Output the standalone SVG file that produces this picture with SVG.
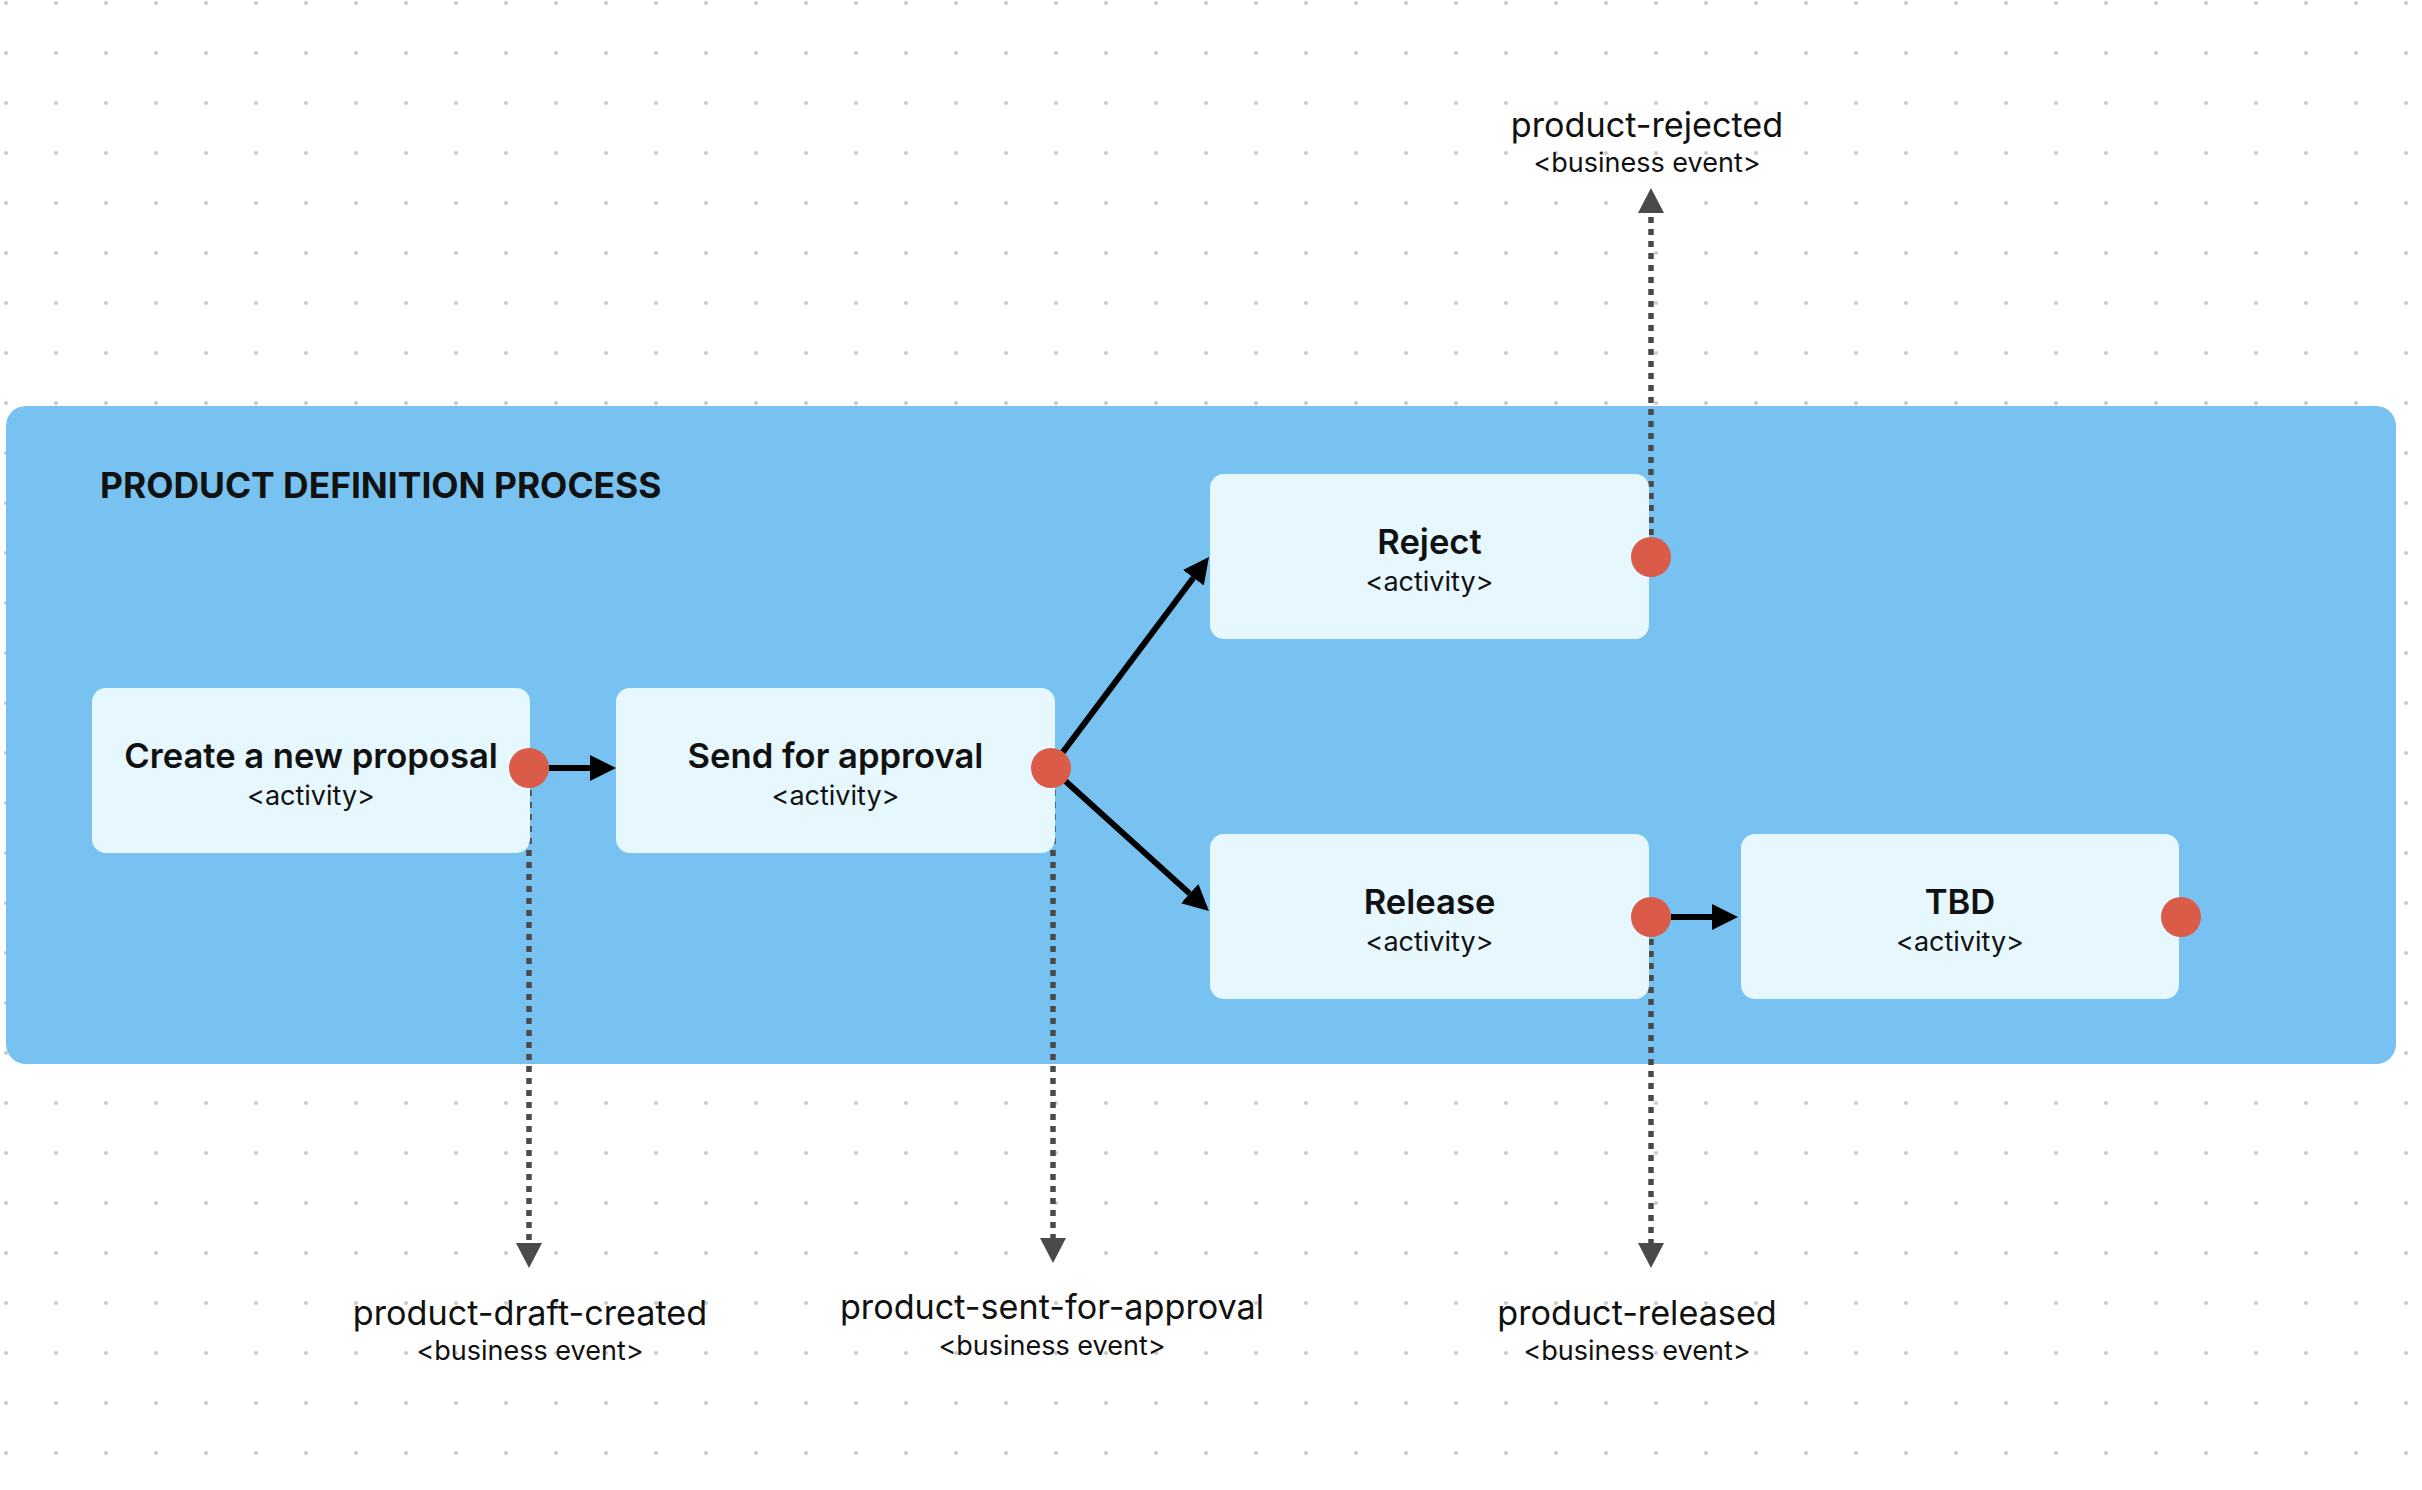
<svg xmlns="http://www.w3.org/2000/svg" width="2422" height="1490" viewBox="0 0 2422 1490">
<style>
.node rect{fill:#E6F7FE}
.t{font-family:Inter,"Liberation Sans",sans-serif;fill:#111;text-anchor:middle}
.title{font-size:34.6px;font-weight:600}
.sub{font-size:27px;font-weight:400}
.ev{font-size:34.2px;font-weight:400}
.port{fill:#D95B48}
.flow{stroke:#000;stroke-width:6;fill:none}
.emit{stroke:#4A4A4A;stroke-width:5.5;stroke-dasharray:6 6;fill:none}
</style>
<defs>
<pattern id="grid" x="0" y="0" width="50" height="50" patternUnits="userSpaceOnUse">
<circle cx="6" cy="3" r="2" fill="#C8C8C8"/>
</pattern>
<marker id="ah" markerUnits="userSpaceOnUse" markerWidth="26" markerHeight="26" refX="0" refY="13" orient="auto" viewBox="0 0 26 26">
<path d="M0,0 L26,13 L0,26 z" fill="#000"/>
</marker>
<marker id="ahg" markerUnits="userSpaceOnUse" markerWidth="25" markerHeight="26" refX="0" refY="13" orient="auto" viewBox="0 0 25 26">
<path d="M0,0 L25,13 L0,26 z" fill="#4A4A4A"/>
</marker>
</defs>
<rect width="2422" height="1490" fill="#fff"/>
<rect width="2422" height="1490" fill="url(#grid)"/>

<g id="container">
<rect x="6" y="406" width="2390" height="658" rx="20" fill="#77C2F0"/>
<text x="100" y="498" font-family="Inter,'Liberation Sans',sans-serif" font-size="35.4" font-weight="700" fill="#111">PRODUCT DEFINITION PROCESS</text>
</g>

<g id="connectors">
<line class="flow" x1="549" y1="768" x2="590" y2="768" marker-end="url(#ah)"/>
<line class="flow" x1="1051" y1="768" x2="1193.4" y2="577.8" marker-end="url(#ah)"/>
<line class="flow" x1="1051" y1="768" x2="1189.7" y2="893.6" marker-end="url(#ah)"/>
<line class="flow" x1="1671" y1="917" x2="1712" y2="917" marker-end="url(#ah)"/>
<line class="emit" x1="529" y1="790" x2="529" y2="1243" marker-end="url(#ahg)"/>
<line class="emit" x1="1053" y1="790" x2="1053" y2="1238" marker-end="url(#ahg)"/>
<line class="emit" x1="1651" y1="939" x2="1651" y2="1243" marker-end="url(#ahg)"/>
<line class="emit" x1="1651" y1="535" x2="1651" y2="213" marker-end="url(#ahg)"/>
</g>

<g id="node-create" class="node">
<rect x="92" y="688" width="438" height="165" rx="14"/>
<text class="t title" x="311" y="768">Create a new proposal</text>
<text class="t sub" x="311" y="805">&lt;activity&gt;</text>
<circle class="port" cx="529" cy="768" r="20"/>
</g>

<g id="node-send" class="node">
<rect x="616" y="688" width="439" height="165" rx="14"/>
<text class="t title" x="835.5" y="768">Send for approval</text>
<text class="t sub" x="835.5" y="805">&lt;activity&gt;</text>
<circle class="port" cx="1051" cy="768" r="20"/>
</g>

<g id="node-reject" class="node">
<rect x="1210" y="474" width="439" height="165" rx="14"/>
<text class="t title" x="1429.5" y="554">Reject</text>
<text class="t sub" x="1429.5" y="591">&lt;activity&gt;</text>
<circle class="port" cx="1651" cy="557" r="20"/>
</g>

<g id="node-release" class="node">
<rect x="1210" y="834" width="439" height="165" rx="14"/>
<text class="t title" x="1429.5" y="914">Release</text>
<text class="t sub" x="1429.5" y="951">&lt;activity&gt;</text>
<circle class="port" cx="1651" cy="917" r="20"/>
</g>

<g id="node-tbd" class="node">
<rect x="1741" y="834" width="438" height="165" rx="14"/>
<text class="t title" x="1960" y="914">TBD</text>
<text class="t sub" x="1960" y="951">&lt;activity&gt;</text>
<circle class="port" cx="2181" cy="917" r="20"/>
</g>

<g id="event-rejected">
<text class="t ev" x="1647" y="137">product-rejected</text>
<text class="t sub" x="1647" y="172">&lt;business event&gt;</text>
</g>

<g id="event-draft-created">
<text class="t ev" x="530" y="1325">product-draft-created</text>
<text class="t sub" x="530" y="1360">&lt;business event&gt;</text>
</g>

<g id="event-sent-for-approval">
<text class="t ev" x="1052" y="1319">product-sent-for-approval</text>
<text class="t sub" x="1052" y="1355">&lt;business event&gt;</text>
</g>

<g id="event-released">
<text class="t ev" x="1637" y="1325">product-released</text>
<text class="t sub" x="1637" y="1360">&lt;business event&gt;</text>
</g>
</svg>
